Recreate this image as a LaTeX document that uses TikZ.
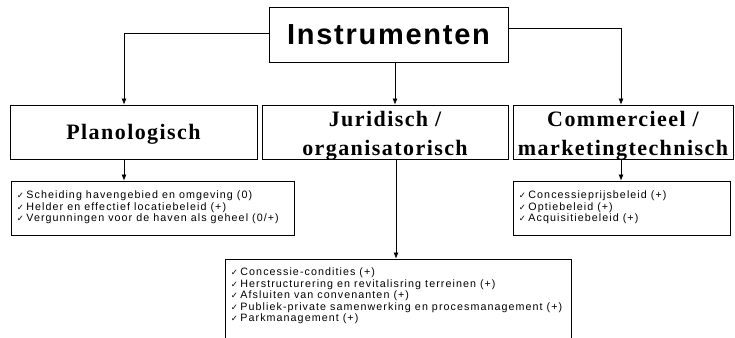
\documentclass[tikz,border=0pt]{standalone}
\usepackage{fontspec}
\setmainfont{Liberation Serif}
\setsansfont{Liberation Sans}
\newfontfamily\headfont[LetterSpace=6]{Liberation Sans}
\newfontfamily\catfont[LetterSpace=6.5]{Liberation Serif}
\newfontfamily\listfont[LetterSpace=10]{Liberation Sans}
\newfontfamily\symfont{DejaVu Sans}
\usetikzlibrary{arrows.meta}
\newcommand\ck{{\symfont\fontsize{8.5}{8}\selectfont ✓}\hspace{2.5pt}}
\tikzset{
  box/.style={draw=black, line width=0.8pt, rectangle, inner sep=0pt},
  arr/.style={draw=black, line width=0.7pt, -{Latex[length=6pt,width=5pt]}},
  cat/.style={box, minimum height=54pt},
  cattext/.style={inner sep=0pt, align=center, font=\catfont\bfseries\fontsize{22}{29}\selectfont},
  lst/.style={inner sep=0pt, anchor=north west, align=left, font=\listfont\fontsize{10.7}{11.6}\selectfont},
}
\begin{document}
\begin{tikzpicture}[x=1pt,y=-1pt]
\useasboundingbox (0,0) rectangle (735,337);
\node[box, minimum width=239pt, minimum height=55pt, font=\headfont\bfseries\fontsize{29}{32}\selectfont] (top) at (388.5,34.5) {Instrumenten};
\node[cat, minimum width=247pt] (plan) at (133.5,132) {};
\node[cat, minimum width=246pt] (jur) at (385,132) {};
\node[cat, minimum width=220pt] (comm) at (623,132) {};
\node[cattext] (planT) at ([yshift=-2pt]plan.center) {Planologisch};
\node[cattext] (jurT) at ([yshift=-3.5pt]jur.center) {Juridisch /\\organisatorisch};
\node[cattext] (commT) at ([yshift=-3.5pt]comm.center) {Commercieel /\\marketingtechnisch};
\node[box, minimum width=283pt, minimum height=54pt] (l1) at (152.5,208) {};
\node[box, minimum width=217pt, minimum height=54pt] (l3) at (621.5,208) {};
\node[box, minimum width=346pt, minimum height=90pt] (l2) at (398,304) {};
\node[lst] (t1) at ([xshift=6pt,yshift=-10pt]l1.north west) {\ck Scheiding havengebied en omgeving (0)\\\ck Helder en effectief locatiebeleid (+)\\\ck Vergunningen voor de haven als geheel (0/+)};
\node[lst] (t3) at ([xshift=6pt,yshift=-10pt]l3.north west) {\ck Concessieprijsbeleid (+)\\\ck Optiebeleid (+)\\\ck Acquisitiebeleid (+)};
\node[lst] (t2) at ([xshift=6pt,yshift=-9pt]l2.north west) {\ck Concessie-condities (+)\\\ck Herstructurering en revitalisring terreinen (+)\\\ck Afsluiten van convenanten (+)\\\ck Publiek-private samenwerking en procesmanagement (+)\\\ck Parkmanagement (+)};
\draw[arr] ([yshift=1.5pt]top.west) -| ([xshift=-9.5pt]plan.north);
\draw[arr] ([yshift=6.5pt]top.east) -| ([xshift=-2pt]comm.north);
\draw[arr] ([xshift=6.5pt]top.south) -- ([xshift=10pt]jur.north);
\draw[arr] ([xshift=-9.5pt]plan.south) -- ([xshift=-28.5pt]l1.north);
\draw[arr] ([xshift=-2pt]comm.south) -- ([xshift=-0.5pt]l3.north);
\draw[arr] ([xshift=11pt]jur.south) -- ([xshift=-2pt]l2.north);
\end{tikzpicture}
\end{document}
